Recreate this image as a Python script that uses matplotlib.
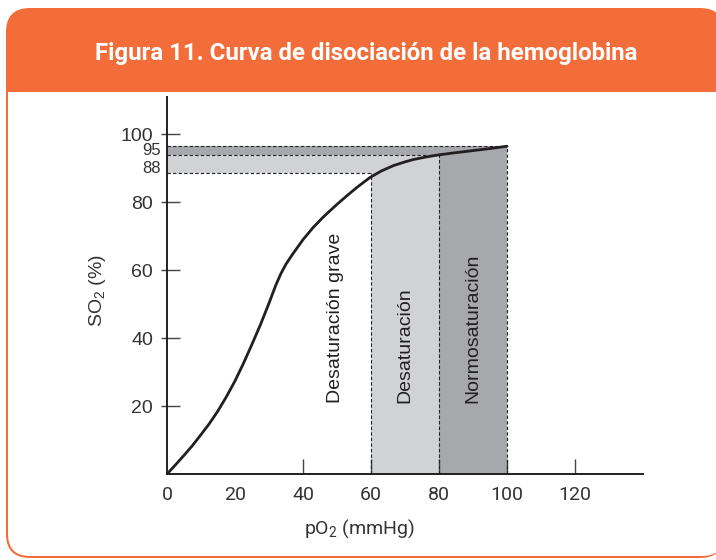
import matplotlib
matplotlib.use("Agg")
import matplotlib.pyplot as plt
from matplotlib.patches import FancyBboxPatch, Rectangle

# ----------------------------
# Data
# ----------------------------
po2 = [0, 2.5, 5, 7.5, 10, 12.5, 15, 17.5, 20, 22.5, 25, 27.5, 30, 32, 33.5, 35, 37,
       40, 43, 46, 50, 53, 56, 59.7, 63, 66.6, 70, 72.5, 76, 79.5, 84, 89, 94, 100]
so2 = [0, 2.7, 5.5, 8.4, 11.6, 14.9, 18.6, 22.8, 27.4, 32.6, 38.2, 44.0, 50.3, 55.6, 59.0, 61.8, 64.8,
       69.0, 72.6, 75.7, 79.4, 82.0, 84.5, 87.3, 89.2, 90.8, 91.9, 92.6, 93.3, 93.9, 94.5, 95.1, 95.7, 96.5]

zone_edges = [60, 80, 100]          # pO2 limits of the zones
band_levels = [88.5, 94, 96.5]      # SO2 levels of the dashed guides
band_labels = ["88", "95"]
zone_names = ["Desaturación grave", "Desaturación", "Normosaturación"]
zone_label_x = [49.5, 70, 90]

xticks = [0, 20, 40, 60, 80, 100, 120]
yticks = [20, 40, 60, 80, 100]

TITLE = "Figura 11. Curva de disociación de la hemoglobina"

ORANGE = "#F26D3A"
LIGHT = "#D1D2D4"
DARK = "#A7A8AB"
INK = "#231F20"

W, H = 716, 560
fig = plt.figure(figsize=(W / 100, H / 100), dpi=100)

# ----------------------------
# Card frame (pixel coordinates)
# ----------------------------
bg = fig.add_axes([0, 0, 1, 1])
bg.set_xlim(0, W)
bg.set_ylim(H, 0)
bg.axis("off")
bg.set_zorder(0)
bg.add_patch(FancyBboxPatch((6, 8), 718, 550, boxstyle="round,pad=0,rounding_size=24",
                            fc=ORANGE, ec="none"))
bg.add_patch(FancyBboxPatch((8, 70), 716, 486, boxstyle="round,pad=0,rounding_size=22",
                            fc="white", ec="none"))
bg.add_patch(Rectangle((6, 70), 720, 22, fc=ORANGE, ec="none"))
bg.text(366, 60, TITLE, color="white", fontsize=17.3, fontweight="bold",
        family="Roboto", ha="center", va="baseline")

# ----------------------------
# Main chart
# ----------------------------
ax = fig.add_axes([167 / W, 1 - 474 / H, 476 / W, 377 / H])
ax.set_zorder(1)
ax.patch.set_alpha(0)
ax.set_xlim(0, 140)
ax.set_ylim(0, 111)

lo, mid, top = band_levels
x60, x80, x100 = zone_edges

# shaded zones
ax.fill_between([x60, x80], 0, mid, color=LIGHT, lw=0, zorder=1)
ax.fill_between([0, x60], lo, mid, color=LIGHT, lw=0, zorder=1)
ax.fill_between([x80, x100], 0, top, color=DARK, lw=0, zorder=1)
ax.fill_between([0, x80], mid, top, color=DARK, lw=0, zorder=1)

# dashed guides
dash = dict(color=INK, lw=0.8, ls=(0, (3, 2)), zorder=2)
ax.plot([0, x100], [top, top], **dash)
ax.plot([0, x80], [mid, mid], **dash)
ax.plot([0, x60], [lo, lo], **dash)
ax.plot([x60, x60], [0, lo], **dash)
ax.plot([x80, x80], [0, mid], **dash)
ax.plot([x100, x100], [0, top], **dash)

# dissociation curve
ax.plot(po2, so2, color=INK, lw=2.0, solid_capstyle="round", solid_joinstyle="round", zorder=3)

# zone names
for name, xx in zip(zone_names, zone_label_x):
    ax.text(xx, 20.9, name, rotation=90, ha="center", va="bottom",
            fontsize=14, family="Liberation Sans", color=INK, zorder=4)

# small level labels
for lab, lev in zip(band_labels, [lo, mid]):
    ax.text(-1.8, lev, lab, ha="right", va="baseline", fontsize=12,
            family="Liberation Sans", color="#333333")

# spines
for s in ["top", "right"]:
    ax.spines[s].set_visible(False)
for s in ["left", "bottom"]:
    ax.spines[s].set_linewidth(1.4)
    ax.spines[s].set_color(INK)
    ax.spines[s].set_zorder(5)

# x ticks: pointing up, none drawn at 0 and 20
ax.set_xticks(xticks)
ax.set_xticklabels([str(v) for v in xticks], family="Roboto", fontsize=14, color="#333333")
ax.tick_params(axis="x", direction="in", length=11, width=1.0, color="#444444", pad=9)
for t in ax.xaxis.get_major_ticks()[:2]:
    t.tick1line.set_visible(False)

# y ticks: cross the axis (short outside, longer inside)
ax.set_yticks(yticks)
ax.set_yticklabels([str(v) for v in yticks], family="Liberation Sans", fontsize=14, color="#333333")
ax.tick_params(axis="y", which="major", direction="out", length=4.5, width=1.0,
               color="#444444", pad=5.5)
ax.yaxis.remove_overlapping_locs = False
ax.set_yticks(yticks, minor=True)
ax.tick_params(axis="y", which="minor", direction="in", length=9.5, width=1.0, color="#444444")

ax.set_xlabel(r"pO$\mathregular{_2}$ (mmHg)", family="Roboto", fontsize=14, color="#333333")
ax.xaxis.set_label_coords(0.405, -0.115)
ax.set_ylabel(r"SO$\mathregular{_2}$ (%)", family="Liberation Sans", fontsize=14, color="#333333")
ax.yaxis.set_label_coords(-0.125, 0.488)

fig.savefig("out.png", dpi=100)
